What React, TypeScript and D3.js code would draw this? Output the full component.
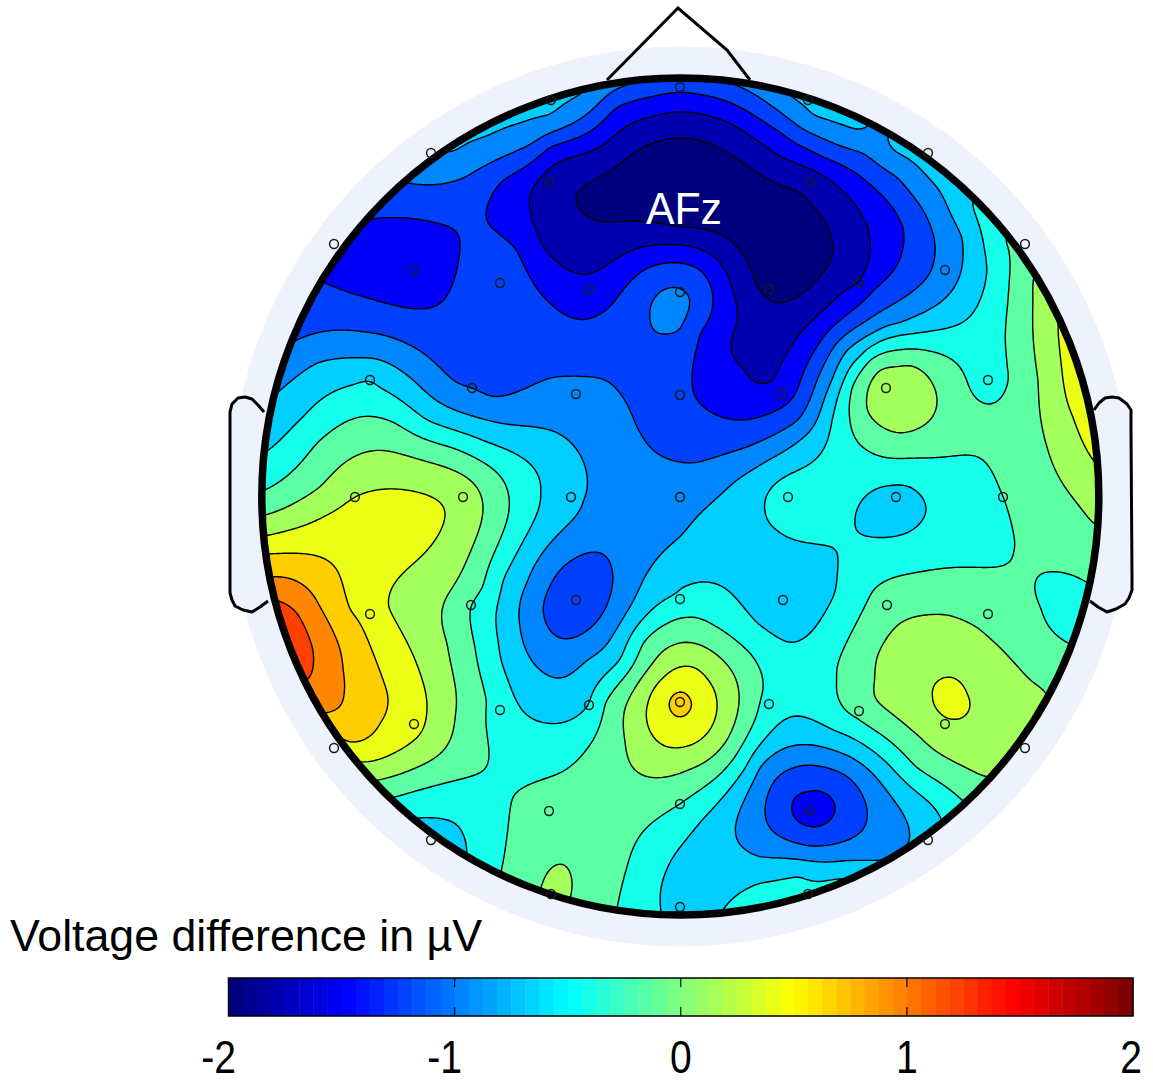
import * as d3 from 'd3';
import React, { useMemo } from 'react';

const levels = [-1.806, -1.528, -1.25, -0.972, -0.694, -0.417, -0.139, 0.139, 0.417, 0.694, 0.972, 1.25];
const barTicks = [-2, -1, 0, 1, 2];

// sensor x, y, voltage
const sensors = [
  [680, 87, -1.1], [551, 100, -0.66], [808, 100, -0.64], [431, 153, -0.78], [928, 153, -0.64],
  [549, 182, -1.7], [810, 182, -1.7], [334, 244, -1.2], [1025, 244, -0.05], [414, 270, -1.42],
  [945, 270, -0.85], [500, 283, -1.1], [859, 283, -1.528], [589, 289, -1.4], [769, 289, -1.85],
  [680, 292, -0.95], [370, 380, -0.42], [988, 380, -0.3], [472, 388, -0.97], [886, 388, 0.3],
  [576, 394, -0.9], [782, 394, -1.4], [680, 395, -1.15], [355, 497, 0.417], [1003, 497, -0.14],
  [463, 497, 0.3], [896, 497, -0.55], [571, 497, -0.55], [788, 497, -0.27], [680, 497, -0.8],
  [576, 600, -1.15], [783, 600, -0.55], [680, 599, -0.38], [471, 605, -0.139], [887, 605, -0.02],
  [370, 614, 0.6], [988, 614, 0.0], [500, 710, -0.3], [859, 711, 0.0], [589, 705, -0.417],
  [769, 704, -0.25], [680, 702, 0.8], [414, 724, 0.5], [945, 724, 0.38], [334, 748, 0.42],
  [1025, 748, 0.1], [549, 811, 0.0], [810, 811, -1.42], [680, 804, -0.139], [431, 840, -0.5],
  [928, 840, -0.5], [551, 894, 0.2], [808, 894, -0.35], [680, 907, -0.55],
];

// extra spot readings away from sensors
const spots = [
  [700, 205, -2.0], [790, 240, -1.95], [630, 190, -1.92], [750, 350, -1.65], [668, 312, -0.88],
  [285, 640, 1.4], [950, 700, 0.5], [1085, 400, 0.6], [262, 440, -0.52], [1095, 500, 0.22],
  [1100, 540, 0.05], [1070, 610, -0.25],
  // thin rim along the top edge
  [450, 140, -0.68], [480, 125, -0.66], [520, 108, -0.66], [460, 110, -0.85], [540, 75, -0.85],
  [860, 118, -0.65], [900, 140, -0.64], [940, 170, -0.62], [960, 190, -0.56], [890, 110, -0.85], [960, 150, -0.8],
];

// contour lines traced on the picture: x, y per level
const traceL1 = [[580, 198], [593, 180], [627, 158], [663, 140], [583, 213], [610, 222], [647, 222], [680, 138], [723, 150], [780, 185], [810, 203], [832, 240], [827, 267], [807, 290], [780, 303], [757, 287], [737, 247], [707, 230], [680, 227]];
const traceL2 = [[530, 207], [543, 177], [600, 147], [650, 117], [680, 112], [543, 247], [587, 275], [633, 250], [680, 245], [730, 123], [780, 156], [830, 180], [863, 217], [870, 243], [845, 290], [800, 333], [780, 365], [773, 380], [757, 383], [743, 367], [738, 317], [723, 267], [697, 248]];
const traceL3 = [[487, 220], [503, 180], [550, 147], [617, 107], [680, 90], [517, 250], [550, 303], [583, 320], [610, 307], [650, 267], [680, 263], [713, 97], [780, 132], [823, 157], [873, 187], [903, 227], [903, 247], [873, 290], [843, 318], [817, 347], [797, 390], [780, 408], [743, 420], [713, 413], [693, 393], [700, 333], [713, 300], [700, 270],
  [367, 220], [410, 218], [450, 227], [460, 243], [450, 290], [430, 308], [393, 305], [350, 293], [323, 283],
  [792, 810], [809, 792], [828, 795], [835, 810], [826, 823], [809, 826], [797, 820]];
const traceL4 = [[407, 183], [450, 182], [477, 170], [533, 143], [583, 117], [627, 85],
  [293, 342], [340, 330], [383, 335], [423, 353], [457, 383], [493, 397], [550, 378], [600, 378], [617, 390], [637, 427], [653, 450], [680, 462], [695, 463], [747, 447], [798, 420], [817, 380], [837, 343], [863, 323], [900, 300], [930, 273], [935, 247], [923, 210], [897, 177], [863, 153], [820, 137], [780, 112], [740, 87],
  [650, 317], [663, 290], [690, 300], [680, 330], [667, 333],
  [587, 553], [613, 580], [603, 613], [573, 638], [560, 638], [543, 607], [560, 570],
  [765, 810], [809, 765], [848, 777], [867, 817], [848, 840], [809, 846], [775, 833]];
const traceL5 = [[447, 153], [500, 130], [550, 115], [583, 93],
  [793, 98], [813, 115], [857, 130], [893, 150], [923, 172], [943, 197], [962, 237], [963, 250], [950, 293], [900, 323], [873, 333], [847, 350], [832, 380], [817, 420], [800, 440], [737, 480], [680, 537],
  [643, 580], [630, 607], [587, 660], [560, 678], [537, 667], [520, 627], [527, 583], [553, 540], [583, 500], [587, 477], [577, 450], [550, 430], [487, 420], [460, 412], [413, 380], [360, 358], [317, 363], [277, 393],
  [760, 767], [799, 745], [833, 750], [872, 773], [906, 820], [910, 840], [882, 860], [833, 862], [760, 857], [746, 850], [736, 823]];
const traceL6 = [[972, 203], [983, 240], [987, 270], [980, 300], [957, 325], [900, 335], [883, 340], [860, 357], [843, 383], [832, 420], [823, 450], [803, 468], [768, 493], [765, 510], [777, 530], [837, 552], [835, 593], [813, 630], [787, 642], [757, 623], [723, 587], [700, 582], [680, 588], [620, 660], [610, 670], [581, 713], [547, 723], [518, 703], [501, 660], [498, 640], [503, 580], [520, 547], [540, 493], [533, 467], [487, 442], [427, 420], [380, 388], [353, 385], [303, 417], [265, 452],
  [804, 717], [780, 723], [746, 767], [702, 820], [673, 857], [661, 907], [833, 730], [891, 767], [930, 803], [942, 820],
  [724, 908], [760, 883], [799, 876], [840, 878], [416, 818], [455, 823], [467, 853],
  [855, 523], [863, 535], [890, 537], [920, 523], [926, 510], [920, 495], [893, 486], [867, 495]];
const traceL7 = [[1005, 240], [1010, 270], [1008, 300], [1007, 367], [1005, 390], [993, 403], [982, 402], [967, 380], [960, 367], [923, 350], [900, 350], [870, 360], [852, 387], [850, 420], [867, 450], [883, 457], [913, 458], [963, 455], [983, 460], [1000, 490], [1015, 543], [1013, 553], [947, 568], [887, 580], [873, 590], [837, 667], [837, 680], [857, 717], [916, 767], [962, 800],
  [680, 618], [693, 617], [713, 625], [750, 653], [763, 690], [756, 717], [717, 777], [681, 803], [639, 837], [627, 867], [617, 908], [622, 680], [643, 643], [605, 703], [586, 750], [562, 772], [523, 788], [513, 797], [506, 843], [501, 872],
  [265, 490], [317, 443], [360, 417], [393, 422], [453, 448], [503, 480], [509, 510], [483, 587], [475, 647], [477, 660], [487, 703], [489, 750], [484, 770], [445, 783], [395, 797],
  [1087, 583], [1047, 572], [1036, 582], [1042, 610], [1068, 643]];
const traceL8 = [[1033, 280], [1033, 300], [1033, 333], [1038, 380], [1047, 447], [1067, 490], [1095, 525],
  [680, 643], [693, 643], [717, 655], [735, 677], [739, 703], [727, 740], [688, 770], [649, 777], [630, 763], [625, 740], [640, 680], [653, 663],
  [265, 515], [320, 487], [363, 453], [393, 452], [470, 480], [483, 507], [453, 587], [447, 643], [450, 660], [455, 717], [441, 753], [378, 780],
  [875, 680], [877, 657], [900, 623], [927, 615], [947, 615], [977, 627], [1030, 680], [1046, 692], [986, 777], [920, 737], [887, 710],
  [867, 397], [867, 410], [877, 423], [900, 433], [927, 423], [937, 403], [932, 383], [880, 370], [897, 367], [910, 365],
  [542, 887], [547, 873], [561, 864], [572, 883], [570, 897]];
const traceL9 = [[1058, 328], [1063, 380], [1073, 417], [1093, 460],
  [680, 667], [693, 667], [708, 680], [717, 703], [697, 742], [668, 747], [651, 733], [648, 703], [664, 677],
  [265, 536], [323, 517], [353, 498], [377, 490], [427, 495], [445, 512], [437, 537], [397, 580], [388, 607], [420, 673], [427, 703], [421, 733], [361, 762],
  [940, 680], [966, 693], [969, 710], [954, 719], [940, 713], [933, 697]];
const traceL10 = [[267, 554], [307, 554], [337, 570], [350, 610], [383, 680], [388, 697], [380, 723], [346, 742],
  [672, 697], [688, 697], [688, 712], [680, 717], [672, 712]];
const traceL11 = [[270, 577], [300, 583], [320, 607], [343, 670], [344, 693], [327, 713]];
const traceL12 = [[275, 600], [297, 613], [313, 650], [310, 677]];
const traces = [traceL1, traceL2, traceL3, traceL4, traceL5, traceL6, traceL7, traceL8, traceL9, traceL10, traceL11, traceL12];

const earLeft = [[264, 412], [258, 405], [252, 399], [245, 397], [238, 398], [232, 404], [230, 412], [230, 430], [230, 575], [230, 593], [232, 600], [235, 606], [243, 610], [252, 612], [260, 607], [268, 601]];
const earRight = [[1094, 410], [1099, 403], [1105, 398], [1112, 397], [1119, 398], [1127, 404], [1131, 410], [1131, 430], [1132, 575], [1132, 590], [1129, 598], [1125, 604], [1116, 609], [1107, 612], [1098, 607], [1090, 601]];
const nose = [[607, 80], [678, 8], [727, 50], [750, 80]];

const width = 1153;
const height = 1082;
const cx = 680.3;
const cy = 496.5;
const headR = 418.5;
const haloR = 450;

const jet = d3.scaleLinear<string>()
  .domain([0, 0.125, 0.375, 0.625, 0.875, 1])
  .range(['#00007f', '#0000ff', '#00ffff', '#ffff00', '#ff0000', '#7f0000'])
  .clamp(true);
const voltToT = d3.scaleLinear().domain([-2, 2]).range([0, 1]);

// thin plate spline through the readings
function solve(A: number[][], b: number[]) {
  const n = b.length;
  for (let i = 0; i < n; i++) {
    let p = i;
    for (let r = i + 1; r < n; r++) if (Math.abs(A[r][i]) > Math.abs(A[p][i])) p = r;
    [A[i], A[p]] = [A[p], A[i]];
    [b[i], b[p]] = [b[p], b[i]];
    for (let r = i + 1; r < n; r++) {
      const f = A[r][i] / A[i][i];
      if (f === 0) continue;
      for (let c = i; c < n; c++) A[r][c] -= f * A[i][c];
      b[r] -= f * b[i];
    }
  }
  const x = new Array(n).fill(0);
  for (let i = n - 1; i >= 0; i--) {
    let s = b[i];
    for (let c = i + 1; c < n; c++) s -= A[i][c] * x[c];
    x[i] = s / A[i][i];
  }
  return x;
}

const kernel = (d2: number) => (d2 < 1e-9 ? 0 : 0.5 * d2 * Math.log(d2));

function buildGrid(step: number) {
  const pts: number[][] = [...sensors, ...spots];
  traces.forEach((t, i) => t.forEach((p) => pts.push([p[0], p[1], levels[i]])));
  const norm = (v: number, c: number) => (v - c) / headR;
  const X = pts.map((p) => norm(p[0], cx));
  const Y = pts.map((p) => norm(p[1], cy));
  const n = pts.length;
  const A: number[][] = [];
  const b: number[] = [];
  for (let i = 0; i < n; i++) {
    const row = new Array(n + 3).fill(0);
    for (let j = 0; j < n; j++) {
      row[j] = kernel((X[i] - X[j]) ** 2 + (Y[i] - Y[j]) ** 2);
    }
    row[i] += 0.0004;
    row[n] = 1; row[n + 1] = X[i]; row[n + 2] = Y[i];
    A.push(row);
    b.push(pts[i][2]);
  }
  for (let k = 0; k < 3; k++) {
    const row = new Array(n + 3).fill(0);
    for (let j = 0; j < n; j++) row[j] = k === 0 ? 1 : k === 1 ? X[j] : Y[j];
    A.push(row);
    b.push(0);
  }
  const w = solve(A, b);

  const nx = Math.ceil((2 * haloR) / step) + 1;
  const ny = nx;
  const x0 = cx - haloR;
  const y0 = cy - haloR;
  const values = new Float64Array(nx * ny);
  for (let gy = 0; gy < ny; gy++) {
    for (let gx = 0; gx < nx; gx++) {
      const px = norm(x0 + gx * step, cx);
      const py = norm(y0 + gy * step, cy);
      let v = w[n] + w[n + 1] * px + w[n + 2] * py;
      for (let j = 0; j < n; j++) {
        if (w[j] !== 0) v += w[j] * kernel((px - X[j]) ** 2 + (py - Y[j]) ** 2);
      }
      values[gy * nx + gx] = v;
    }
  }
  return { values, nx, ny, x0, y0 };
}

export default function App() {
  const step = 3;
  const bands = useMemo(() => {
    const { values, nx, ny, x0, y0 } = buildGrid(step);
    const contours = d3.contours().size([nx, ny]).smooth(true).thresholds(levels)(Array.from(values));
    const path = d3.geoPath(d3.geoTransform({
      point(x, y) { (this as any).stream.point(x0 + (x - 0.5) * step, y0 + (y - 0.5) * step); },
    }));
    return contours.map((c) => ({ level: c.value, d: path(c) || '' }));
  }, []);

  const barX = d3.scaleLinear().domain([-2, 2]).range([228.5, 1133]);
  const barCells = d3.range(64);
  const barBand = d3.scaleBand<number>().domain(barCells).range(barX.range() as [number, number]);
  const lineXY = d3.line();

  return (
    <svg width={width} height={height} style={{ position: 'absolute', left: 0, top: 0, background: '#fff' }}>
      <defs>
        <clipPath id="head"><circle cx={cx} cy={cy} r={headR} /></clipPath>
      </defs>
      <circle cx={cx} cy={cy} r={haloR} fill="#edf2fd" />
      <path d={lineXY(nose as [number, number][]) || ''} fill="none" stroke="#000" strokeWidth={3} />
      <path d={lineXY(earLeft as [number, number][]) || ''} fill="#edf2fd" stroke="#000" strokeWidth={3} strokeLinejoin="round" />
      <path d={lineXY(earRight as [number, number][]) || ''} fill="#edf2fd" stroke="#000" strokeWidth={3} strokeLinejoin="round" />

      <g clipPath="url(#head)">
        <circle cx={cx} cy={cy} r={headR} fill={jet(0)} />
        {bands.map((b) => (
          <path key={b.level} d={b.d} fill={jet(voltToT(b.level))} stroke="#000" strokeWidth={1.4} strokeLinejoin="round" />
        ))}
      </g>
      <circle cx={cx} cy={cy} r={headR} fill="none" stroke="#000" strokeWidth={7.5} />

      {sensors.map((s, i) => (
        <circle key={i} cx={s[0]} cy={s[1]} r={4.4} fill="none" stroke="#1a1a1a" strokeWidth={1.5} />
      ))}
      <text x={646} y={224} fill="#fff" fontFamily="Liberation Sans" fontSize={44} textLength={76} lengthAdjust="spacingAndGlyphs">AFz</text>

      <text x={10} y={951} fill="#000" fontFamily="Liberation Sans" fontSize={44} textLength={472} lengthAdjust="spacingAndGlyphs">Voltage difference in µV</text>

      <g>
        {barCells.map((i) => (
          <rect key={i} x={barBand(i)} y={978} width={barBand.bandwidth() + 0.5} height={38} fill={jet(i / 63)} />
        ))}
        <rect x={228.5} y={978} width={904.5} height={38} fill="none" stroke="#000" strokeWidth={1.5} />
        {barTicks.slice(1, 4).map((t) => (
          <g key={t}>
            <line x1={barX(t)} x2={barX(t)} y1={978} y2={987} stroke="#000" strokeWidth={1.2} />
            <line x1={barX(t)} x2={barX(t)} y1={1007} y2={1016} stroke="#000" strokeWidth={1.2} />
          </g>
        ))}
        {barTicks.map((t) => (
          <text key={t} transform={`translate(${barX(t) + (t < 0 ? -10 : t === 2 ? -2 : 0)},1073) scale(0.85,1)`} textAnchor="middle" fontFamily="Liberation Sans" fontSize={46} fill="#000">{t}</text>
        ))}
      </g>
    </svg>
  );
}
